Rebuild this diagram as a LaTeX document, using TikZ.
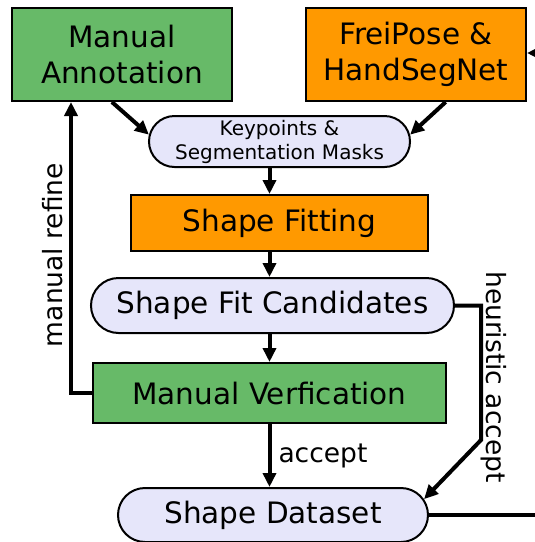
\documentclass[tikz,border=0pt]{standalone}
\usepackage{fontspec}
\setmainfont{DejaVu Sans}
\usetikzlibrary{shapes.misc,arrows.meta,calc}
\definecolor{boxgreen}{RGB}{103,186,104}
\definecolor{boxorange}{RGB}{255,153,0}
\definecolor{boxlav}{RGB}{230,230,250}
\begin{document}
\begin{tikzpicture}[x=1pt,y=-1pt,
  every node/.style={inner sep=0pt, align=center, font=\fontsize{29.5}{36}\selectfont},
  block/.style={draw=black, line width=2pt, rectangle},
  pill/.style={draw=black, line width=2pt, rounded rectangle, fill=boxlav},
  flow/.style={line width=4pt, -{Triangle[length=14pt,width=13pt]}},
  plainflow/.style={line width=4pt},
  lbl/.style={font=\fontsize{26.5}{30}\selectfont}]
\useasboundingbox (0,0) rectangle (535,542);

% process boxes
\node[block, fill=boxgreen, minimum width=220pt, minimum height=93pt] (MA) at (122,54.5) {Manual\\Annotation};
\node[block, fill=boxorange, minimum width=220pt, minimum height=93pt] (FP) at (416,54.5) {FreiPose \&\\HandSegNet};
\node[pill, minimum width=261pt, minimum height=51pt, font=\fontsize{20}{24}\selectfont] (KP) at (279.5,141.5) {Keypoints \&\\Segmentation Masks};
\node[block, fill=boxorange, minimum width=297pt, minimum height=56pt] (SF) at (279.5,223) {Shape Fitting};
\node[pill, minimum width=363pt, minimum height=55pt] (SFC) at (272.5,305.5) {Shape Fit Candidates};
\node[block, fill=boxgreen, minimum width=353pt, minimum height=60pt] (MV) at (269.5,393) {Manual Verfication};
\node[pill, minimum width=310pt, minimum height=54pt] (SD) at (273,515) {Shape Dataset};

% helper coordinates
\coordinate (col) at (269.5,0);
\coordinate (refx) at (71,0);
\coordinate (hbend) at (481,440);
\coordinate (fpsrc) at (575,53);
\coordinate (sdout) at (575,0);

% main column
\draw[flow] (KP.south -| col) -- (SF.north -| col);
\draw[flow] (SF.south -| col) -- (SFC.north -| col);
\draw[flow] (SFC.south -| col) -- (MV.north -| col);
\draw[flow] (MV.south -| col) -- node[lbl, anchor=west, xshift=7pt, yshift=0pt] (acclabel) {accept} (SD.north -| col);

% inputs to keypoints
\draw[flow] (MA.-102) -- (KP.177);
\draw[flow] (FP.-58) -- (KP.3);
\draw[flow] (fpsrc) -- (FP.east |- fpsrc);

% refine loop
\draw[flow] (MV.west) -| (MA.south -| refx);
\node[lbl, rotate=90] (mrlabel) at (53,255) {manual refine};

% heuristic path
\draw[flow] (SFC.east) -| (hbend) -- (SD.6);
\node[lbl, rotate=-90] (hlabel) at (494,377) {heuristic accept};

% output
\draw[plainflow] (SD.east) -- (SD.east -| sdout);
\end{tikzpicture}
\end{document}
